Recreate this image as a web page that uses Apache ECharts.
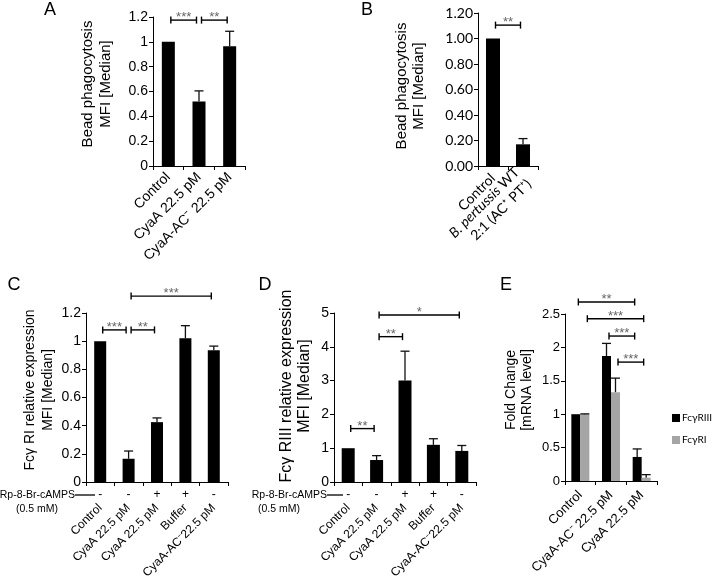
<!DOCTYPE html>
<html><head><meta charset="utf-8">
<script src="https://cdn.jsdelivr.net/npm/echarts@6.0.0/dist/echarts.min.js"></script>
<style>html,body{margin:0;padding:0;background:#fff}#c{width:714px;height:579px}</style>
</head><body><div id="c"></div>
<script>
// ---------- DATA ----------
// Panel A
const catA = ['Control', 'CyaA 22.5 pM', 'CyaA-AC⁻ 22.5 pM'];
const valA = [1.0, 0.52, 0.965];
const errA = [0, 0.085, 0.12];
const sigA = [{from: 0, to: 1, y: 1.175, text: '***'}, {from: 1, to: 2, y: 1.175, text: '**'}];
// Panel B
const catB = ['Control', 'B. pertussis WT\n2:1 (AC⁺ PT⁺)'];
const valB = [1.0, 0.17];
const errB = [0, 0.045];
const sigB = [{from: 0, to: 1, y: 1.105, text: '**'}];
// Panel C
const catC = ['Control', 'CyaA 22.5 pM', 'CyaA 22.5 pM', 'Buffer', 'CyaA-AC⁻22.5 pM'];
const rpC = ['-', '-', '+', '+', '-'];
const valC = [1.0, 0.165, 0.425, 1.02, 0.935];
const errC = [0, 0.055, 0.03, 0.09, 0.03];
const sigC = [{from: 0, to: 1, y: 1.08, text: '***'}, {from: 1, to: 2, y: 1.08, text: '**'}, {from: 1, to: 4, y: 1.32, text: '***'}];
// Panel D
const catD = ['Control', 'CyaA 22.5 pM', 'CyaA 22.5 pM', 'Buffer', 'CyaA-AC⁻22.5 pM'];
const rpD = ['-', '-', '+', '+', '-'];
const valD = [1.0, 0.65, 3.0, 1.1, 0.92];
const errD = [0, 0.13, 0.87, 0.18, 0.16];
const sigD = [{from: 0, to: 1, y: 1.58, text: '**'}, {from: 1, to: 2, y: 4.3, text: '**'}, {from: 1, to: 4, y: 4.94, text: '*'}];
// Panel E
const catE = ['Control', 'CyaA-AC⁻ 22.5 pM', 'CyaA 22.5 pM'];
const seriesE = ['FcγRIII', 'FcγRI'];
const colorsE = ['#000', '#a5a5a5'];
const valE3 = [1.0, 1.87, 0.36];
const errE3 = [0, 0.19, 0.12];
const valE1 = [1.0, 1.33, 0.05];
const errE1 = [0.005, 0.21, 0.045];
// from/to: [category, series]
const sigE = [
  {from: [0, 0], to: [2, 0], y: 2.68, text: '**'},
  {from: [0, 1], to: [2, 1], y: 2.43, text: '***'},
  {from: [1, 0], to: [2, 0], y: 2.17, text: '***'},
  {from: [1, 1], to: [2, 1], y: 1.78, text: '***'}
];
const rpLabel = 'Rp-8-Br-cAMPS';
const rpConc = '(0.5 mM)';

// ---------- HELPERS ----------
const AR = 'Liberation Sans, Arial, sans-serif';
const CAL = 'Lato, Carlito, sans-serif';

function errRender(offset) {
  return function (params, api) {
    const i = api.value(0), v = api.value(1), e = api.value(2);
    if (!e) return null;
    const b = api.coord([i, v]), t = api.coord([i, v + e]);
    const x = b[0] + offset;
    const st = {stroke: '#111', lineWidth: 1.3};
    return {type: 'group', children: [
      {type: 'line', shape: {x1: x, y1: b[1], x2: x, y2: t[1]}, style: st},
      {type: 'line', shape: {x1: x - 4.5, y1: t[1], x2: x + 4.5, y2: t[1]}, style: st}
    ]};
  };
}
function bracketRender(list, offsets) {
  return function (params, api) {
    const s = list[params.dataIndex];
    const fc = Array.isArray(s.from) ? s.from : [s.from, 0];
    const tc = Array.isArray(s.to) ? s.to : [s.to, 0];
    const x1 = api.coord([fc[0], s.y])[0] + offsets[fc[1]] + 2.5;
    const x2 = api.coord([tc[0], s.y])[0] + offsets[tc[1]] - 2.5;
    const y = api.coord([fc[0], s.y])[1];
    const st = {stroke: '#000', lineWidth: 1.4};
    return {type: 'group', children: [
      {type: 'line', shape: {x1: x1, y1: y, x2: x2, y2: y}, style: st},
      {type: 'line', shape: {x1: x1, y1: y - 3.5, x2: x1, y2: y + 3.5}, style: st},
      {type: 'line', shape: {x1: x2, y1: y - 3.5, x2: x2, y2: y + 3.5}, style: st},
      {type: 'text', x: (x1 + x2) / 2, y: y + 4, style: {text: s.text, align: 'center', verticalAlign: 'bottom', fontSize: 13, fontFamily: AR, fill: '#666'}}
    ]};
  };
}
function xAx(g, data, fs, font, margin, extra) {
  return Object.assign({gridIndex: g, type: 'category', data: data,
    axisLine: {lineStyle: {color: '#000', width: 1}},
    axisTick: {show: true, length: 4, lineStyle: {color: '#000'}},
    axisLabel: {rotate: 45, interval: 0, color: '#000', fontSize: fs, fontFamily: font, margin: margin, hideOverlap: false}
  }, extra || {});
}
function yAx(g, max, interval, fs, font, fmt) {
  return {gridIndex: g, type: 'value', min: 0, max: max, interval: interval,
    splitLine: {show: false},
    axisLine: {show: true, lineStyle: {color: '#000', width: 1}},
    axisTick: {show: true, length: 4, lineStyle: {color: '#000'}},
    axisLabel: {color: '#000', fontSize: fs, fontFamily: font, margin: 5, formatter: fmt}
  };
}
function rpAx(g, data) {
  return {gridIndex: g, type: 'category', data: data, position: 'bottom',
    axisLine: {show: false}, axisTick: {show: false},
    axisLabel: {interval: 0, color: '#000', fontSize: 12, fontFamily: AR, margin: 7}};
}
function bars(xi, yi, data, w, color, name) {
  return {type: 'bar', name: name, xAxisIndex: xi, yAxisIndex: yi, data: data, barWidth: w, barGap: '0%',
    itemStyle: {color: color}, silent: true, animation: false};
}
function errs(xi, yi, vals, es, off) {
  return {type: 'custom', xAxisIndex: xi, yAxisIndex: yi, renderItem: errRender(off || 0),
    data: vals.map((v, i) => [i, v, es[i]]), encode: {x: 0, y: 1}, z: 5, silent: true, animation: false};
}
function sigs(xi, yi, list, offsets) {
  return {type: 'custom', xAxisIndex: xi, yAxisIndex: yi, renderItem: bracketRender(list, offsets || [0, 0]),
    data: list.map(s => [Array.isArray(s.from) ? s.from[0] : s.from, s.y]), encode: {x: 0, y: 1}, z: 6, silent: true, animation: false};
}
function vtitle(x, y, text, fs, lh) {
  return {type: 'text', x: x, y: y, rotation: Math.PI / 2, silent: true,
    style: {text: text, align: 'center', verticalAlign: 'middle', textAlign: 'center', textVerticalAlign: 'middle',
      fontSize: fs, fontFamily: AR, lineHeight: lh, fill: '#000'}};
}
function txt(x, y, text, fs, align, font) {
  return {type: 'text', x: x, y: y, silent: true,
    style: {text: text, align: align || 'center', verticalAlign: 'middle', textAlign: align || 'center', textVerticalAlign: 'middle',
      fontSize: fs, fontFamily: font || AR, fill: '#000'}};
}
function legendItems(x, y, gap) {
  const out = [];
  seriesE.forEach((n, i) => {
    out.push({type: 'rect', shape: {x: x, y: y + i * gap - 4, width: 8, height: 8}, style: {fill: colorsE[i]}, silent: true});
    out.push(txt(x + 10, y + i * gap, n, 10, 'left', CAL));
  });
  return out;
}

const chart = echarts.init(document.getElementById('c'), null, {renderer: 'canvas'});
const gridBase = {containLabel: false, outerBoundsMode: 'none'};
const option = {
  backgroundColor: '#fff',
  animation: false,
  grid: [
    Object.assign({left: 153, top: 17, width: 92, height: 149}, gridBase),   // A
    Object.assign({left: 478, top: 13, width: 60, height: 153}, gridBase),   // B
    Object.assign({left: 86, top: 313, width: 142, height: 169}, gridBase),  // C
    Object.assign({left: 334, top: 313, width: 142, height: 169}, gridBase), // D
    Object.assign({left: 565, top: 314, width: 92, height: 167}, gridBase)   // E
  ],
  xAxis: [
    xAx(0, catA, 14, AR, 9),
    xAx(1, catB, 14, CAL, 10, {axisLabel: {rotate: 45, interval: 0, color: '#000', fontSize: 14, fontFamily: CAL, margin: 10, lineHeight: 17,
      formatter: v => v.replace('B. pertussis', '{i|B. pertussis}'),
      rich: {i: {fontStyle: 'italic', fontSize: 14, fontFamily: CAL, color: '#000', lineHeight: 17}}}}),
    xAx(2, catC, 12, AR, 24),
    xAx(3, catD, 12, AR, 24),
    xAx(4, catE, 13, AR, 12),
    rpAx(2, rpC),
    rpAx(3, rpD)
  ],
  yAxis: [
    yAx(0, 1.2, 0.2, 14, AR),
    yAx(1, 1.2, 0.2, 14, CAL, v => v.toFixed(2)),
    yAx(2, 1.2, 0.2, 14, AR),
    yAx(3, 5, 1, 14, AR),
    yAx(4, 2.5, 0.5, 13, AR)
  ],
  series: [
    bars(0, 0, valA, 13, '#000'), errs(0, 0, valA, errA), sigs(0, 0, sigA),
    bars(1, 1, valB, 14, '#000'), errs(1, 1, valB, errB), sigs(1, 1, sigB),
    bars(2, 2, valC, 12, '#000'), errs(2, 2, valC, errC), sigs(2, 2, sigC),
    bars(3, 3, valD, 13, '#000'), errs(3, 3, valD, errD), sigs(3, 3, sigD),
    bars(4, 4, valE3, 9, colorsE[0], seriesE[0]), bars(4, 4, valE1, 9, colorsE[1], seriesE[1]),
    errs(4, 4, valE3, errE3, -4.5), errs(4, 4, valE1, errE1, 4.5),
    sigs(4, 4, sigE, [-4.5, 4.5])
  ],
  graphic: [
    txt(50, 10, 'A', 18), txt(367, 10, 'B', 18), txt(14, 285, 'C', 18), txt(265, 285, 'D', 18), txt(506, 285, 'E', 18),
    vtitle(97, 84, 'Bead phagocytosis\nMFI [Median]', 15, 18),
    vtitle(410, 86, 'Bead phagocytosis\nMFI [Median]', 15, 17),
    vtitle(39, 390, 'Fcγ RI relative expression\nMFI [Median]', 14, 18),
    vtitle(296, 386, 'Fcγ RIII relative expression\nMFI [Median]', 16, 18),
    vtitle(519, 390, 'Fold Change\n[mRNA level]', 14, 16),
    txt(75, 495, rpLabel, 10.5, 'right'),
    {type: 'line', shape: {x1: 75, y1: 495, x2: 95, y2: 495}, style: {stroke: '#000', lineWidth: 1.3}, silent: true},
    txt(37, 509, rpConc, 10.5),
    txt(327, 495, rpLabel, 10.5, 'right'),
    {type: 'line', shape: {x1: 327, y1: 495, x2: 343, y2: 495}, style: {stroke: '#000', lineWidth: 1.3}, silent: true},
    txt(279, 509, rpConc, 10.5)
  ].concat(legendItems(672, 418, 22))
};
chart.setOption(option);
</script></body></html>
